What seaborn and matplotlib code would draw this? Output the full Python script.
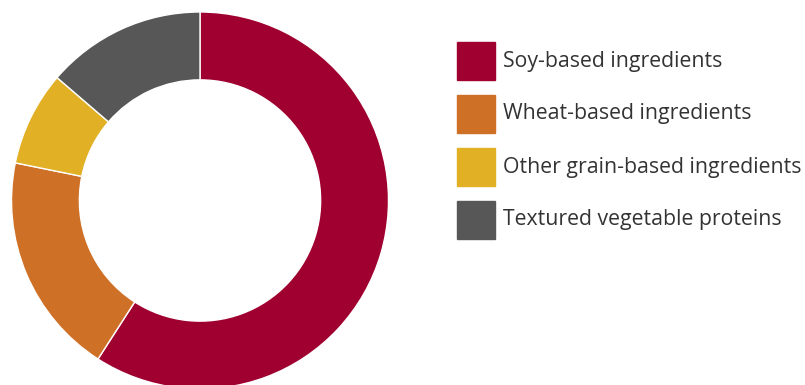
# Donut chart: share of ingredient types
import matplotlib.pyplot as plt
import seaborn as sns
from matplotlib.patches import Rectangle

labels = ["Soy-based ingredients", "Wheat-based ingredients",
          "Other grain-based ingredients", "Textured vegetable proteins"]
shares = [59.1, 19.1, 8.1, 13.7]
colors = ["#A00030", "#CF7027", "#E1B025", "#575757"]

sns.set_theme(style="white")
plt.rcParams["font.family"] = ["Open Sans", "DejaVu Sans"]

W, H = 805, 385
fig = plt.figure(figsize=(W / 100, H / 100), dpi=100)

# pie axes, placed in pixel units (bottom of ring runs off the figure)
cx, cy, r = 200, 200.5, 188.5
ax = fig.add_axes([(cx - r) / W, (H - cy - r) / H, 2 * r / W, 2 * r / H])
ax.pie(shares, colors=colors, startangle=90, counterclock=False,
       radius=1, wedgeprops=dict(width=0.36, edgecolor="white", linewidth=1))
ax.set_xlim(-1, 1)
ax.set_ylim(-1, 1)
ax.set_aspect("equal")
ax.axis("off")

# legend drawn by hand
box = 38
for i, (lab, col) in enumerate(zip(labels, colors)):
    top = 42 + i * 53
    fig.patches.append(Rectangle((457 / W, (H - top - box) / H), box / W, box / H,
                                 transform=fig.transFigure, color=col))
    fig.text(503 / W, (H - top - box / 2) / H, lab, ha="left", va="center",
             fontsize=15.3, color="#333333")

fig.savefig("out.png", dpi=100)
